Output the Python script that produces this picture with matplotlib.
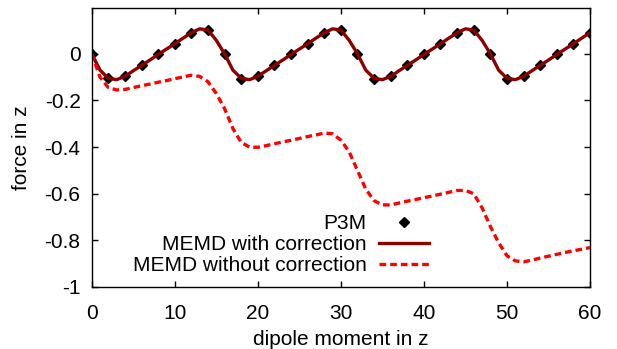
import matplotlib
matplotlib.use("Agg")
import matplotlib.pyplot as plt

plt.rcParams["font.family"] = ["Liberation Sans", "DejaVu Sans"]

# P3M reference points (every 2 units of dipole moment)
p3m_x = list(range(0, 61, 2))
p3m_force = [0.0, -0.105, -0.097, -0.05, -0.003, 0.043, 0.09, 0.102,
             0.0, -0.106, -0.097, -0.05, -0.002, 0.043, 0.09, 0.102,
             0.0, -0.107, -0.096, -0.05, -0.003, 0.043, 0.09, 0.102,
             0.0, -0.106, -0.097, -0.05, -0.002, 0.043, 0.09]

# MEMD curves read at every unit of dipole moment
memd_x = list(range(0, 61))
memd_corr = [0.0, -0.07, -0.105, -0.111, -0.097, -0.073, -0.05, -0.027,
             -0.003, 0.02, 0.043, 0.067, 0.09, 0.107, 0.102, 0.058,
             0.0, -0.07, -0.105, -0.111, -0.097, -0.073, -0.05, -0.027,
             -0.003, 0.02, 0.043, 0.067, 0.09, 0.107, 0.102, 0.058,
             0.0, -0.07, -0.105, -0.111, -0.097, -0.073, -0.05, -0.027,
             -0.003, 0.02, 0.043, 0.067, 0.09, 0.107, 0.102, 0.058,
             0.0, -0.07, -0.105, -0.111, -0.097, -0.073, -0.05, -0.027,
             -0.003, 0.02, 0.043, 0.067, 0.09]
memd_nocorr = [0.0, -0.1, -0.145, -0.155, -0.153, -0.145, -0.137, -0.13,
               -0.122, -0.115, -0.107, -0.099, -0.092, -0.097, -0.12, -0.17,
               -0.235, -0.32, -0.38, -0.4, -0.401, -0.394, -0.386, -0.378,
               -0.371, -0.363, -0.355, -0.348, -0.34, -0.343, -0.37, -0.42,
               -0.5, -0.58, -0.63, -0.648, -0.648, -0.64, -0.632, -0.625,
               -0.617, -0.61, -0.602, -0.594, -0.586, -0.586, -0.6, -0.66,
               -0.74, -0.81, -0.866, -0.888, -0.892, -0.885, -0.876, -0.868,
               -0.86, -0.852, -0.845, -0.838, -0.831]

x_ticks = [0, 10, 20, 30, 40, 50, 60]
y_ticks = [-1, -0.8, -0.6, -0.4, -0.2, 0]
y_tick_labels = ["-1", "-0.8", "-0.6", "-0.4", "-0.2", "0"]

fig = plt.figure(figsize=(6.17, 3.49), dpi=100)
ax = fig.add_axes([0.1486, 0.1777, 0.8076, 0.7985])

ax.plot(p3m_x, p3m_force, linestyle="none", marker="D", markersize=5.5,
        color="black", label="P3M")
ax.plot(memd_x, memd_corr, color="#8b0000", linewidth=2.4,
        label="MEMD with correction")
ax.plot(memd_x, memd_nocorr, color="#ff0000", linewidth=2.4,
        dashes=(2.0, 1.2), label="MEMD without correction")

ax.set_xlim(0, 60)
ax.set_ylim(-1, 0.195)
ax.set_xticks(x_ticks)
ax.set_yticks(y_ticks)
ax.set_yticklabels(y_tick_labels)
ax.tick_params(direction="in", length=4, width=1, top=True, right=True,
               labelsize=15)
ax.tick_params(axis="y", pad=8)
ax.tick_params(axis="x", pad=12)
for s in ax.spines.values():
    s.set_linewidth(1.0)

ax.set_xlabel("dipole moment in z", fontsize=15, labelpad=5)
ax.set_ylabel("force in z", fontsize=15, labelpad=10)

ax.legend(loc="center right", bbox_to_anchor=(0.677, 0.151), frameon=False,
          markerfirst=False, fontsize=15, handlelength=2.4, handletextpad=0.6,
          labelspacing=0.1, borderpad=0, borderaxespad=0)
for t in ax.get_legend().get_texts():
    t.set_ha("right")
ax.get_legend()._legend_box.align = "right"

fig.savefig("out.png", dpi=100)
